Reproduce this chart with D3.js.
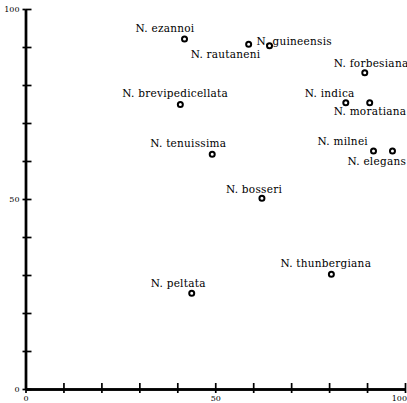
<!DOCTYPE html>
<html><head><meta charset="utf-8">
<script src="https://cdn.jsdelivr.net/npm/d3@7"></script>
<style>
html,body{margin:0;padding:0;background:#fff;}
svg{display:block;}
text{font-family:"DejaVu Serif","Liberation Serif",serif;fill:#000;}
</style></head>
<body>
<svg id="chart" width="407" height="403"></svg>
<script>
// Data
const species = ["N. ezannoi","N. rautaneni","N. guineensis","N. brevipedicellata","N. forbesiana","N. indica","N. moratiana","N. milnei","N. elegans","N. tenuissima","N. bosseri","N. thunbergiana","N. peltata"];
const xValues = [41.9, 58.8, 64.3, 40.8, 89.4, 84.4, 90.7, 91.7, 96.7, 49.2, 62.3, 80.6, 43.8];
const yValues = [92.1, 90.7, 90.3, 74.9, 83.2, 75.3, 75.3, 62.6, 62.6, 61.8, 50.2, 30.2, 25.2];
const tickValues = [0,10,20,30,40,50,60,70,80,90,100];
const tickLabels = ["0","50","100"];
// label placement offsets (pixels, relative to marker)
const labelDx = [-49,-58,-13,-58,-31,-41,-36,-56,-45,-62,-36,-51,-41];
const labelDy = [-7,14,-1,-7,-6,-6,12,-6,14,-7,-5,-7,-6];

const svg = d3.select("#chart");
const x = d3.scaleLinear().domain([0,100]).range([25.5,405]);
const y = d3.scaleLinear().domain([0,100]).range([389,9]);
const fmt = d => tickLabels.includes(String(d)) ? String(d) : "";

const gx = svg.append("g").attr("transform",`translate(0,${y(0)})`)
  .call(d3.axisBottom(x).tickValues(tickValues).tickSize(4).tickSizeOuter(0).tickPadding(2).tickFormat(fmt));
svg.append("g").attr("transform",`translate(0,${y(0)})`)
  .call(d3.axisBottom(x).tickValues(tickValues).tickSize(-6).tickSizeOuter(0).tickFormat(""));
const gy = svg.append("g").attr("transform",`translate(${x(0)},0)`)
  .call(d3.axisLeft(y).tickValues(tickValues).tickSize(3).tickSizeOuter(0).tickPadding(3).tickFormat(fmt));
svg.append("g").attr("transform",`translate(${x(0)},0)`)
  .call(d3.axisLeft(y).tickValues(tickValues).tickSize(-6).tickSizeOuter(0).tickFormat(""));

svg.selectAll(".domain").attr("stroke","#000").attr("stroke-width",2.4);
svg.selectAll(".tick line").attr("stroke","#000").attr("stroke-width",1.7);
svg.selectAll(".tick text").attr("font-family","DejaVu Serif, serif").attr("font-size",8).attr("fill","#000");
gx.selectAll(".tick text").filter(d=>d===100).attr("text-anchor","end").attr("dx",1.5);

const pts = species.map((s,i)=>({s, x:xValues[i], y:yValues[i], dx:labelDx[i], dy:labelDy[i]}));
const g = svg.append("g");
g.selectAll("text.lab").data(pts).join("text").attr("class","lab")
  .attr("x",d=>x(d.x)+d.dx).attr("y",d=>y(d.y)+d.dy)
  .attr("font-size",10.5).attr("letter-spacing",0.25).text(d=>d.s);
g.selectAll("circle").data(pts).join("circle")
  .attr("cx",d=>x(d.x)).attr("cy",d=>y(d.y)).attr("r",2.5)
  .attr("fill","#fff").attr("stroke","#000").attr("stroke-width",2);
</script>
</body></html>
